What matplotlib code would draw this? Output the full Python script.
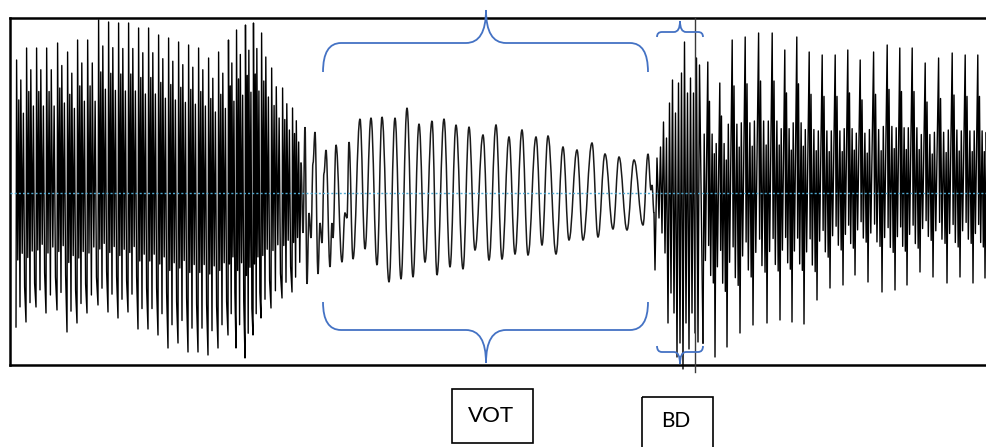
import matplotlib
matplotlib.use("Agg")
import matplotlib.pyplot as plt
from matplotlib.path import Path
from matplotlib.patches import PathPatch, Rectangle

# ---------------- data (amplitude in px around the baseline) -------------
# left dense voiced region: pulse start x, pulse top amplitude, pulse bottom amplitude
left_x = [16, 26, 36, 46, 57, 67, 77, 87, 98, 108, 118, 128, 138, 148, 158, 168, 178, 188,
          198, 208, 218, 228, 236, 245, 253, 261, 271, 282, 292]
left_end = 301
left_top = [133, 145, 145, 145, 150, 141, 153, 153, 173, 171, 170, 170, 165, 165, 158, 155,
            151, 148, 145, 135, 141, 153, 163, 168, 170, 160, 125, 105, 85]
left_bot = [-134, -129, -114, -120, -117, -139, -130, -120, -112, -119, -125, -119, -136, -136,
            -142, -155, -150, -159, -159, -162, -155, -142, -155, -165, -142, -125, -115, -105, -99]
# shape of one pulse in the left region: (fraction of period, 'T'/'B', share of top/bottom)
left_profile = [(0.00, 'B', 1.0), (0.06, 'T', 1.0), (0.18, 'B', 0.5), (0.28, 'T', 0.7),
                (0.40, 'B', 0.85), (0.48, 'T', 0.85), (0.62, 'B', 0.45), (0.74, 'T', 0.6),
                (0.86, 'B', 0.7)]

# middle (VOT) region: smooth oscillation extrema
mid_x = [301, 303, 305, 307, 309, 311, 313, 315, 318, 320, 322, 324, 326, 330, 332, 333, 336,
         342, 345, 347, 349, 353, 360, 365, 371, 377, 382, 389, 395, 401, 407, 413, 419, 425,
         432, 437, 444, 450, 456, 463, 469, 475, 483, 489, 496, 502, 509, 515, 522, 528, 536,
         542, 548, 556, 563, 569, 577, 583, 592, 598, 605, 613, 619, 627, 634, 643, 648, 651,
         652, 654]
mid_y = [30, -40, 66, -91, -20, -45, 30, 61, -81, -30, -50, 20, 43, -74, -30, -45, 48,
         -69, -20, -25, 51, -66, 74, -56, 75, -72, 76, -89, 75, -86, 85, -84, 69, -69,
         72, -82, 74, -74, 68, -76, 66, -57, 58, -67, 68, -66, 56, -61, 63, -62, 56,
         -52, 57, -61, 46, -47, 43, -47, 50, -44, 39, -36, 36, -37, 33, -32, 39, 3,
         8, -20]

# burst (BD) region
burst_x = [654, 655, 657, 659, 660.5, 662, 663.5, 665, 666.5, 668, 669.5, 671, 672.5, 674,
           675.5, 677, 678.5, 680, 681.5, 683, 684.5, 686, 687.5, 689, 690.5, 692, 693.5, 695,
           696.5, 698, 699.5, 703]
burst_y = [-20, -77, 35, -25, 46, -40, 71, -60, 55, -130, 90, -100, 113, -120, 80, -164, 110,
           -150, 120, -176, 151, -130, 100, -156, 115, -120, 100, -140, 135, -149, 128, -150]

# right dense voiced region
right_x = [703, 715, 727, 740, 753, 767, 780, 792, 804, 817, 830, 843, 855, 868, 882, 895, 907,
           920, 933, 947, 960, 973, 985]
right_end = 998
right_top = [131, 110, 153, 156, 160, 160, 143, 156, 141, 138, 138, 143, 133, 141, 148, 145,
             145, 130, 135, 140, 138, 138, 135]
right_bot = [-150, -164, -154, -140, -132, -130, -127, -129, -131, -107, -95, -92, -82, -89,
             -99, -97, -92, -79, -84, -90, -84, -90, -85]
right_profile = [(0.00, 'B', 1.0), (0.10, 'T', 0.45), (0.20, 'B', 0.45), (0.40, 'T', 1.0),
                 (0.47, 'B', 0.35), (0.54, 'T', 0.7), (0.64, 'B', 0.55), (0.76, 'T', 0.45),
                 (0.86, 'B', 0.6), (0.94, 'T', 0.3)]

marker_x = 695
labels = ["VOT", "BD"]

# ---------------- helpers -------------
def pulses(starts, end, tops, bots, profile):
    xs, ys = [], []
    bounds = list(starts) + [end]
    for i in range(len(starts)):
        a, b = bounds[i], bounds[i + 1]
        for frac, kind, share in profile:
            xs.append(a + frac * (b - a))
            ys.append(share * (tops[i] if kind == 'T' else bots[i]))
    return xs, ys


def smooth_path(xs, ys, k=0.4):
    verts = [(xs[0], ys[0])]
    codes = [Path.MOVETO]
    for i in range(1, len(xs)):
        x0, y0, x1, y1 = xs[i - 1], ys[i - 1], xs[i], ys[i]
        dx = x1 - x0
        verts += [(x0 + k * dx, y0), (x1 - k * dx, y1), (x1, y1)]
        codes += [Path.CURVE4] * 3
    return Path(verts, codes)


def brace(ax, x0, x1, xm, y_end, y_flat, y_tip, r, r2, color):
    verts = [(x0, y_end), (x0, y_flat), (x0 + r, y_flat), (xm - r2, y_flat), (xm, y_flat),
             (xm, y_tip), (xm, y_flat), (xm + r2, y_flat), (x1 - r, y_flat), (x1, y_flat),
             (x1, y_end)]
    codes = [Path.MOVETO, Path.CURVE3, Path.CURVE3, Path.LINETO, Path.CURVE3, Path.CURVE3,
             Path.CURVE3, Path.CURVE3, Path.LINETO, Path.CURVE3, Path.CURVE3]
    ax.add_patch(PathPatch(Path(verts, codes), fill=False, ec=color, lw=1.3))


fam = ["Lato", "DejaVu Sans"]

# ---------------- figure -------------
W, H = 987, 447
fig = plt.figure(figsize=(W / 100, H / 100), dpi=100)
ax = fig.add_axes([10 / W, (H - 365) / H, (W - 10) / W, (365 - 18) / H])
ax.set_xlim(10, 987)
ax.set_ylim(-172, 175)
ax.set_xticks([])
ax.set_yticks([])
for s in ["left", "top", "bottom"]:
    ax.spines[s].set_linewidth(1.8)
    ax.spines[s].set_color("black")
ax.spines["right"].set_visible(False)

wave_lw = 1.0
lx, ly = pulses(left_x, left_end, left_top, left_bot, left_profile)
ax.plot(lx + [mid_x[0]], ly + [mid_y[0]], color="black", lw=wave_lw, zorder=2)
ax.add_patch(PathPatch(smooth_path(mid_x, mid_y), fill=False, ec="#1a1a1a", lw=1.1, zorder=2))
ax.plot(burst_x, burst_y, color="black", lw=wave_lw, zorder=2, clip_on=False)
rx, ry = pulses(right_x, right_end, right_top, right_bot, right_profile)
ax.plot(rx, ry, color="black", lw=wave_lw, zorder=2)

ax.axhline(0, color="#4FA8D0", lw=1.0, ls=(0, (1.5, 1.5)), zorder=3)
ax.plot([marker_x, marker_x], [175, -179], color="#3a3a3a", lw=1.0, zorder=4, clip_on=False)

# overlay in pixel coordinates for annotations
ov = fig.add_axes([0, 0, 1, 1])
ov.set_xlim(0, W)
ov.set_ylim(H, 0)
ov.axis("off")
bc = "#4472C4"
brace(ov, 323, 648, 486, 72, 43, 10, 18, 20, bc)
brace(ov, 323, 648, 486, 302, 330, 363, 18, 20, bc)
brace(ov, 657, 703, 680, 37, 32, 21, 5, 6, bc)
brace(ov, 657, 703, 680, 346, 352, 364, 5, 6, bc)

ov.add_patch(Rectangle((452, 389), 81, 54, fill=False, ec="black", lw=1.2))
ov.add_patch(Rectangle((642, 397), 71, 60, fill=False, ec="black", lw=1.2, clip_on=False))
ov.text(491, 416, labels[0], ha="center", va="center", fontsize=16, family=fam)
ov.text(676, 421, labels[1], ha="center", va="center", fontsize=15, family=fam)

fig.savefig("out.png", dpi=100)
